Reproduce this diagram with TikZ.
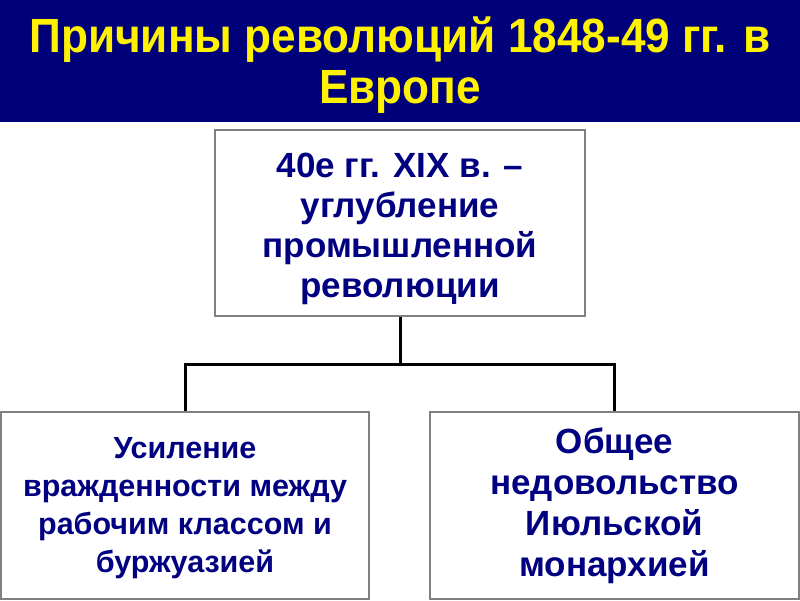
\documentclass[tikz,border=0pt]{standalone}
\usepackage{fontspec}
\setmainfont{Liberation Sans}
\newfontfamily\titlefont[FakeStretch=0.92]{Liberation Sans}
\definecolor{navy}{RGB}{0,0,128}
\definecolor{titlebg}{RGB}{0,0,120}
\definecolor{boxgray}{RGB}{128,128,128}
\begin{document}
\begin{tikzpicture}[x=1pt,y=-1pt,
  box/.style={draw=boxgray, line width=1.6pt, fill=white, inner sep=0pt},
  boxtext/.style={text=navy, align=center, inner sep=0pt},
  conn/.style={line width=3pt, draw=black}]
\useasboundingbox (0,0) rectangle (800,600);
\fill[titlebg] (0,0) rectangle (800,122);
\node[text=yellow, align=center, font=\titlefont\bfseries\fontsize{48}{51}\selectfont] (title) at (400,65) {Причины революций 1848-49 гг. в\\Европе};
\node[box, minimum width=370pt, minimum height=186pt] (top) at (400,223) {};
\node[boxtext, font=\bfseries\fontsize{35}{40}\selectfont] (toptext) at (400,229) {40е гг. XIX в. –\\углубление\\промышленной\\революции};
\node[box, minimum width=368pt, minimum height=187pt] (left) at (185,505.5) {};
\node[boxtext, font=\bfseries\fontsize{30.5}{38}\selectfont] (lefttext) at (185,508) {Усиление\\вражденности между\\рабочим классом и\\буржуазией};
\node[box, minimum width=369pt, minimum height=187pt] (right) at (614.5,505.5) {};
\node[boxtext, font=\bfseries\fontsize{35}{41}\selectfont] (righttext) at (614.5,505.5) {Общее\\недовольство\\Июльской\\монархией};
\coordinate (hline) at (0,364);
\draw[conn] (top.south) -- (top.south |- hline);
\draw[conn] (left.north) -- (left.north |- hline) -- (right.north |- hline) -- (right.north);
\end{tikzpicture}
\end{document}
